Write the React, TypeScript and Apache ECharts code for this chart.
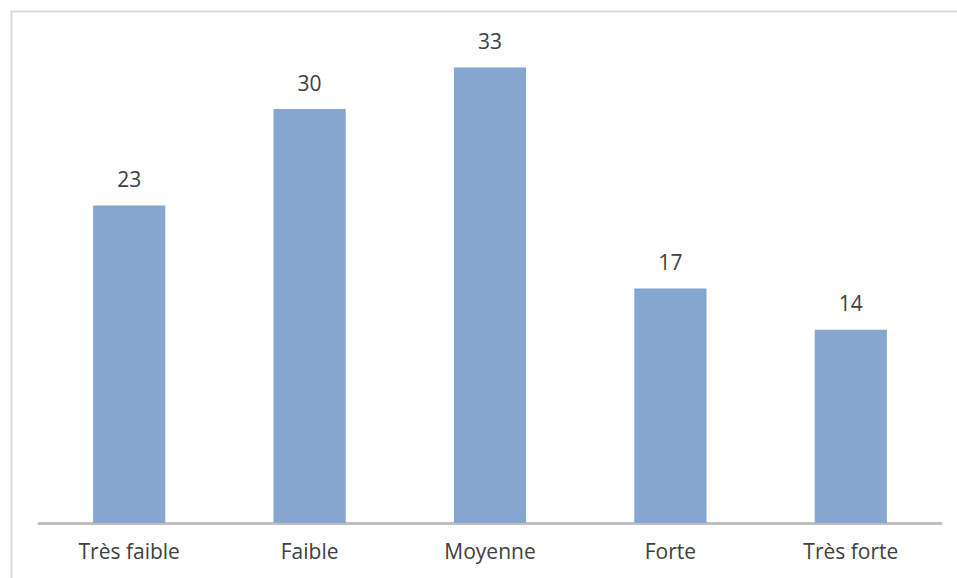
import React, { useEffect, useRef } from "react";
import * as echarts from "echarts";

const categories = ["Très faible", "Faible", "Moyenne", "Forte", "Très forte"];
const values = [23, 30, 33, 17, 14];

export default function App() {
  const ref = useRef<HTMLDivElement>(null);
  useEffect(() => {
    const chart = echarts.init(ref.current!, null, { renderer: "svg" });
    chart.setOption({
      animation: false,
      backgroundColor: "#ffffff",
      graphic: [
        {
          type: "rect",
          left: 9,
          top: 9,
          shape: { x: 0, y: 0, width: 960, height: 580 },
          style: { fill: "none", stroke: "#d9d9d9", lineWidth: 2 },
          silent: true,
        },
      ],
      grid: { left: 39, right: 16, top: 40, bottom: 55 },
      xAxis: {
        type: "category",
        data: categories,
        axisLine: { show: true, lineStyle: { color: "#bfbfbf", width: 3 } },
        axisTick: { show: false },
        axisLabel: {
          color: "#404040",
          fontFamily: "Open Sans",
          fontSize: 21,
          margin: 17,
        },
      },
      yAxis: {
        type: "value",
        min: 0,
        max: 35,
        interval: 5,
        show: false,
        splitLine: { show: false },
      },
      series: [
        {
          type: "bar",
          data: values,
          barWidth: "40%",
          itemStyle: { color: "#84a6cf" },
          label: {
            show: true,
            position: "top",
            distance: 16,
            color: "#404040",
            fontFamily: "Open Sans",
            fontSize: 21,
          },
        },
      ],
    });
    return () => chart.dispose();
  }, []);
  return (
    <div
      ref={ref}
      style={{ position: "absolute", left: 0, top: 0, width: 957, height: 578 }}
    />
  );
}
